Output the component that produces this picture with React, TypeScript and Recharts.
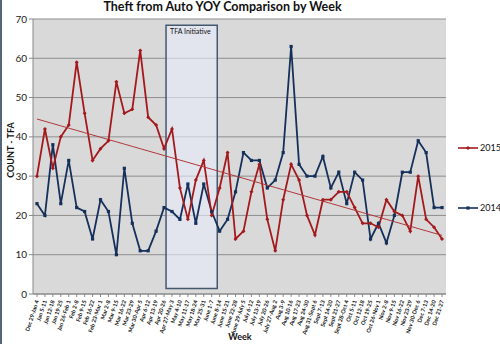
import React from 'react';
import { LineChart, Line, XAxis, YAxis, CartesianGrid, ReferenceArea } from 'recharts';

const weeks = [
  'Dec 29-Jan 4', 'Jan 5-11', 'Jan 12-18', 'Jan 19-25', 'Jan 26-Feb 1', 'Feb 2-8', 'Feb 9-15',
  'Feb 16-22', 'Feb 23-Mar 1', 'Mar 2-8', 'Mar 9-15', 'Mar 16-22', 'Mar 23-29', 'Mar 30-Apr 5',
  'Apr 6-12', 'Apr 13-19', 'Apr 20-26', 'Apr 27-May 3', 'May 4-10', 'May 11-17', 'May 18-24',
  'May 25-31', 'June 1-7', 'June 8-14', 'June 15-21', 'June 22-28', 'June 29-July 5', 'July 6-12',
  'July 13-19', 'July 20-26', 'July 27-Aug 2', 'Aug 3-9', 'Aug 10-16', 'Aug 17-23', 'Aug 24-30',
  'Aug 31-Sept 6', 'Sept 7-13', 'Sept 14-20', 'Sept 21-27', 'Sept 28-Oct 4', 'Oct 5-11', 'Oct 12-18',
  'Oct 19-25', 'Oct 26-Nov 1', 'Nov 2-8', 'Nov 9-15', 'Nov 16-22', 'Nov 23-29', 'Nov 30-Dec 6',
  'Dec 7-13', 'Dec 14-20', 'Dec 21-27',
];

const values2015 = [
  30, 42, 32, 40, 43, 59, 46, 34, 37, 39, 54, 46, 47, 62, 45, 43, 37, 42, 27, 19, 29, 34, 20, 27, 36, 14,
  16, 26, 33, 19, 11, 24, 33, 29, 20, 15, 24, 24, 26, 26, 22, 18, 18, 17, 24, 21, 20, 16, 30, 19, 17, 14,
];

const values2014 = [
  23, 20, 38, 23, 34, 22, 21, 14, 24, 21, 10, 32, 18, 11, 11, 16, 22, 21, 19, 28, 18, 28, 21, 16, 19, 26,
  36, 34, 34, 27, 29, 36, 63, 33, 30, 30, 35, 27, 31, 23, 31, 29, 14, 18, 13, 20, 31, 31, 39, 36, 22, 22,
];

const yTicks = [0, 10, 20, 30, 40, 50, 60, 70];

const initiativeStart = 16.25;
const initiativeEnd = 22.7;
const initiativeLabel = 'TFA Initiative';

const RED = '#a3191c';
const BLUE = '#15305a';

// least-squares linear trend of 2015 (as Excel's linear trendline)
const n = values2015.length;
const meanX = (n - 1) / 2;
const meanY = values2015.reduce((a, b) => a + b, 0) / n;
let sxy = 0;
let sxx = 0;
values2015.forEach((v, i) => {
  sxy += (i - meanX) * (v - meanY);
  sxx += (i - meanX) * (i - meanX);
});
const slope = sxy / sxx;
const intercept = meanY - slope * meanX;

const data = weeks.map((w, i) => ({
  i,
  week: w,
  y2015: values2015[i],
  y2014: values2014[i],
  trend: intercept + slope * i,
}));

const XTick = (props: any) => {
  const { x, y, payload } = props;
  return (
    <g transform={`translate(${x + 2},${y + 2})`}>
      <text
        transform="rotate(-72)"
        textAnchor="end"
        fontSize={5.6}
        fontWeight="bold"
        fill="#111"
        fontFamily="Lato, 'Liberation Sans', sans-serif"
      >
        {weeks[payload.value]}
      </text>
    </g>
  );
};

const RedDot = (props: any) => {
  const { cx, cy } = props;
  if (cx == null || cy == null) return null;
  return <path d={`M${cx - 2},${cy}L${cx},${cy - 2}L${cx + 2},${cy}L${cx},${cy + 2}Z`} fill={RED} />;
};

const BlueDot = (props: any) => {
  const { cx, cy } = props;
  if (cx == null || cy == null) return null;
  return <rect x={cx - 1.6} y={cy - 1.6} width={3.2} height={3.2} fill={BLUE} />;
};

const font = "Lato, 'Liberation Sans', sans-serif";

export default function App() {
  return (
    <div
      style={{
        position: 'absolute',
        left: 0,
        top: 0,
        width: 500,
        height: 344,
        background: '#fff',
        fontFamily: font,
        overflow: 'hidden',
      }}
    >
      <div style={{ position: 'absolute', left: 0, top: 0, width: 2, height: 344, background: '#56667a' }} />
      <div
        style={{
          position: 'absolute',
          left: 0,
          width: 445,
          top: -1,
          textAlign: 'center',
          fontSize: 12.5,
          fontWeight: 'bold',
          color: '#111',
        }}
      >
        Theft from Auto YOY Comparison by Week
      </div>
      <div
        style={{
          position: 'absolute',
          left: 10,
          top: 150,
          transform: 'translate(-50%, -50%) rotate(-90deg)',
          fontSize: 9,
          fontWeight: 'bold',
          color: '#111',
          whiteSpace: 'nowrap',
        }}
      >
        COUNT - TFA
      </div>
      <div
        style={{
          position: 'absolute',
          left: 0,
          width: 480,
          top: 331,
          textAlign: 'center',
          fontSize: 9,
          fontWeight: 'bold',
          color: '#111',
        }}
      >
        Week
      </div>
      <LineChart width={500} height={344} data={data} margin={{ top: 19, right: 54, left: 0, bottom: 0 }}>
        <CartesianGrid vertical={false} fill="#d9d9d9" stroke="#8e8e8e" strokeWidth={1} />
        <XAxis
          dataKey="i"
          type="number"
          domain={[-0.5, 51.5]}
          ticks={data.map((d) => d.i)}
          interval={0}
          height={50}
          tick={<XTick />}
          tickLine={{ stroke: '#888' }}
          tickSize={3}
          axisLine={{ stroke: '#888' }}
        />
        <YAxis
          domain={[0, 70]}
          ticks={yTicks}
          width={33}
          tick={{ fontSize: 10, fill: '#222', fontFamily: font }}
          tickLine={{ stroke: '#888' }}
          tickSize={4}
          axisLine={{ stroke: '#888' }}
        />
        <Line
          type="linear"
          dataKey="y2014"
          stroke={BLUE}
          strokeWidth={1.8}
          dot={<BlueDot />}
          activeDot={false}
          isAnimationActive={false}
        />
        <Line
          type="linear"
          dataKey="y2015"
          stroke={RED}
          strokeWidth={1.8}
          dot={<RedDot />}
          activeDot={false}
          isAnimationActive={false}
        />
        <Line
          type="linear"
          dataKey="trend"
          stroke="#b0373a"
          strokeWidth={1}
          dot={false}
          activeDot={false}
          isAnimationActive={false}
        />
        <ReferenceArea
          x1={initiativeStart}
          x2={initiativeEnd}
          y1={1.4}
          y2={68.4}
          fill="#e6ecf8"
          fillOpacity={0.62}
          stroke="#44586f"
          strokeWidth={1.5}
          label={{ value: initiativeLabel, position: 'insideTopLeft', fontSize: 7, fill: '#111', offset: 4 }}
          ifOverflow="visible"
        />
      </LineChart>
      <svg style={{ position: 'absolute', left: 455, top: 140 }} width={45} height={80}>
        <line x1={3} y1={8} x2={23} y2={8} stroke={RED} strokeWidth={1.6} />
        <path d="M13,6L15,8L13,10L11,8Z" fill={RED} />
        <text x={25} y={11} fontSize={9} fill="#111" fontFamily={font}>2015</text>
        <line x1={3} y1={68} x2={23} y2={68} stroke={BLUE} strokeWidth={1.6} />
        <rect x={11.4} y={66.4} width={3.2} height={3.2} fill={BLUE} />
        <text x={25} y={71} fontSize={9} fill="#111" fontFamily={font}>2014</text>
      </svg>
    </div>
  );
}
